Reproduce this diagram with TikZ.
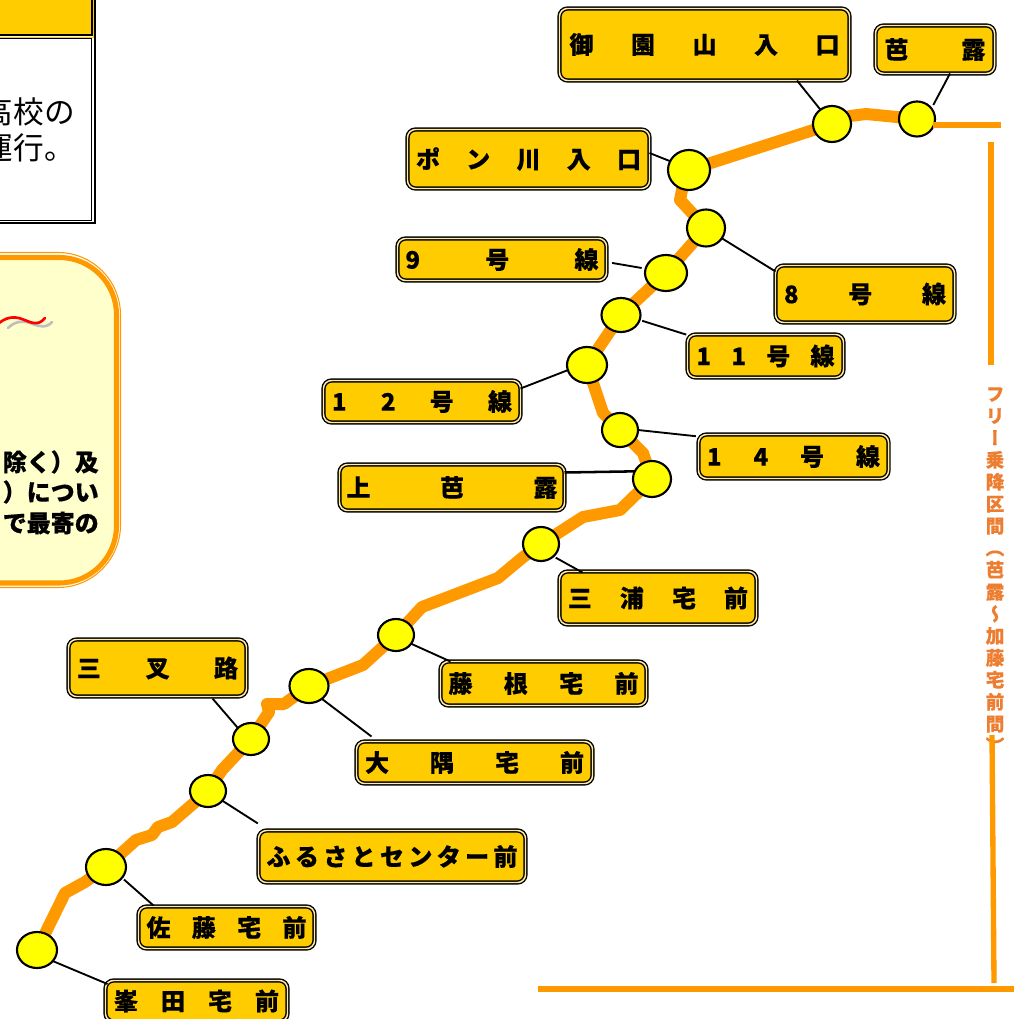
\documentclass[tikz,border=0pt]{standalone}
\usepackage{fontspec}
\usetikzlibrary{shapes.geometric,backgrounds,calc}
\setmainfont{Noto Sans CJK JP}[BoldFeatures={FakeBold=0.4}]
\newfontfamily\cjkv[RawFeature=+vert,BoldFeatures={FakeBold=0.3}]{Noto Sans CJK JP}
\definecolor{gold}{HTML}{FFCC00}
\definecolor{routeor}{HTML}{FF9900}
\definecolor{textor}{HTML}{ED7D31}
\definecolor{cream}{HTML}{FFFFCC}
\definecolor{stopy}{HTML}{FFFF00}
\tikzset{
  lblbox/.style={draw=black,line width=1.05pt,double=gold!35!white,double distance=1.1pt,fill=gold,rounded corners=6pt,inner sep=0pt,outer sep=0pt,font=\fontsize{18}{18}\selectfont\bfseries},
  stopc/.style={ellipse,draw=black,line width=1.6pt,fill=stopy,inner sep=0pt,outer sep=0pt},
  route/.style={draw=routeor,line width=9pt,line join=round,line cap=round},
  leader/.style={draw=black,line width=1.4pt},
  freeln/.style={draw=routeor,line width=4pt},
}
\newcommand\lbl[7]{\node[lblbox,minimum width=(#4-3)*0.75pt,minimum height=(#5-3)*0.75pt] (#1) at (#2,#3) {\makebox[\dimexpr #6pt*3/4\relax]{#7}};}
\newcommand\stp[5]{\node[stopc,minimum width=#4*1.5pt,minimum height=#5*1.5pt] (#1) at (#2,#3) {};}
\begin{document}
\begin{tikzpicture}[x=0.75pt,y=-0.75pt]
\useasboundingbox (0,0) rectangle (1018,1019);
\clip (0,0) rectangle (1018,1019);
% top-left boxes
\fill[gold] (-20,-20) rectangle (92,35);
\draw[line width=1.5pt] (-20,35.5) -- (92,35.5) -- (92,-20);
\draw[gold,line width=0.6pt] (-20,37) -- (93.5,37) -- (93.5,-20);
\draw[line width=1.2pt] (-20,38.5) -- (91.5,38.5) -- (91.5,220.5) -- (-20,220.5);
\draw[line width=1.5pt] (95,-20) -- (95,223) -- (-20,223);
\node[anchor=east,inner sep=0pt,font=\fontsize{23}{23}\selectfont] (t1) at (75,112) {高校の};
\node[anchor=east,inner sep=0pt,font=\fontsize{23}{23}\selectfont] (t2) at (75,148) {運行。};
% cream box
\draw[routeor,line width=0.8pt,rounded corners=47pt] (-100,252.5) -- (120.5,252.5) -- (120.5,587.5) -- (-100,587.5);
\draw[routeor,fill=cream,line width=3.8pt,rounded corners=43pt] (-100,257.5) -- (116.5,257.5) -- (116.5,583) -- (-100,583);
\draw[gray!50,line width=2pt,line cap=round] (8,328) .. controls (14,322) and (22,320) .. (30,323) .. controls (38,326) and (46,329) .. (52,322);
\draw[red,line width=2pt,line cap=round] (-3,325) .. controls (5,317) and (14,316) .. (22,319) .. controls (30,322) and (38,327) .. (45,318);
\foreach \n/\tx/\ty in {b1/除く）及/462,b2/）につい/492,b3/で最寄の/523}
  \node[anchor=east,inner sep=0pt,font=\fontsize{18}{18}\selectfont\bfseries] (\n) at (99,\ty) {\tx};
% stops
\stp{cA}{917}{119}{18}{17.5}
\stp{cB}{832}{124}{19}{18}
\stp{cC}{689}{170}{21}{20}
\stp{cD}{706}{228}{19}{18.5}
\stp{cE}{666}{273}{21}{18}
\stp{cF}{621}{315}{19.5}{17}
\stp{cG}{587}{365}{20}{18}
\stp{cH}{620}{430}{18}{17}
\stp{cI}{652}{479}{19}{18}
\stp{cJ}{541}{544}{18}{17}
\stp{cK}{396}{635}{18}{16}
\stp{cL}{309}{686}{19.5}{17}
\stp{cM}{251}{739}{18}{16}
\stp{cN}{208}{791}{18}{16}
\stp{cO}{106}{867}{20}{18}
\stp{cP}{37}{950}{20}{18}
% labels
\lbl{lA}{935}{49.5}{122}{51}{101}{芭\hfill 露}
\lbl{lB}{704.5}{44.5}{293}{75}{270}{御\hfill 園\hfill 山\hfill 入\hfill 口}
\lbl{lC}{528.5}{159}{245}{62}{225}{ポ\hfill ン\hfill 川\hfill 入\hfill 口}
\lbl{lD}{865}{294}{182}{60}{162}{8\hfill 号\hfill 線}
\lbl{lE}{502}{259.5}{212}{45}{193}{9\hfill 号\hfill 線}
\lbl{lF}{765.5}{356}{159}{46}{138}{1\hfill 1\hfill 号\hfill 線}
\lbl{lG}{422}{401.5}{200}{45}{180}{1\hfill 2\hfill 号\hfill 線}
\lbl{lH}{793.5}{456.5}{193}{47}{173}{1\hfill 4\hfill 号\hfill 線}
\lbl{lI}{452}{487.5}{228}{49}{211}{上\hfill 芭\hfill 露}
\lbl{lJ}{658}{598}{200}{56}{180}{三\hfill 浦\hfill 宅\hfill 前}
\lbl{lK}{543.5}{683.5}{209}{47}{190}{藤\hfill 根\hfill 宅\hfill 前}
\lbl{lL}{474.5}{762.5}{239}{45}{219}{大\hfill 隅\hfill 宅\hfill 前}
\lbl{lM}{157.5}{668}{181}{60}{161}{三\hfill 叉\hfill 路}
\lbl{lN}{392}{856.5}{270}{55}{251}{ふ\hfill る\hfill さ\hfill と\hfill セ\hfill ン\hfill タ\hfill ー\hfill 前}
\lbl{lO}{226.5}{927.5}{179}{45}{160}{佐\hfill 藤\hfill 宅\hfill 前}
\lbl{lP}{196.5}{1001}{185}{44}{165}{峯\hfill 田\hfill 宅\hfill 前}
% route under the nodes
\begin{scope}[on background layer]
\draw[route] (cA.center) -- (866,114) -- (850,116) -- (cB.center) -- (cC.center) -- (682,190) -- (680,200) -- (cD.center) -- (cE.center) -- (cF.center) -- (cG.center) -- (603,413) -- (cH.center) -- (643,453) -- (cI.center) -- (620,510) -- (583,517) -- (cJ.center) -- (522,558) -- (498,578) -- (422,607) -- (cK.center) -- (363,665) -- (cL.center) -- (284,704) -- (267,704) -- (269,712) -- (cM.center) -- (222,770) -- (cN.center) -- (172,822) -- (158,827) -- (152,835) -- (136,840) -- (cO.center) -- (85,882) -- (65,893) -- (cP.center);
\end{scope}
% leaders
\draw[leader] (cB.129) -- ($(lB.south)+(92.5,0)$);
\draw[leader,shorten <=3pt] (cA.36) -- ($(lA.south)+(15,0)$);
\draw[leader] (cC.155) -- ($(lC.east)+(0,-6)$);
\draw[leader] (cD.-33) -- ($(lD.north west)+(0,6)$);
\draw[leader,shorten <=3pt,shorten >=2pt] (cE.168) -- ($(lE.east)+(3,3)$);
\draw[leader,shorten <=2pt,shorten >=1pt] (cF.-15) -- ($(lF.west)+(0,-21)$);
\draw[leader] (cG.195) -- ($(lG.east)+(0,-13)$);
\draw[leader,shorten >=2pt] (cH.0) -- ($(lH.west)+(0,-20)$);
\draw[leader,line width=1.9pt] (cI.156) -- ($(lI.east)+(0,-15)$);
\draw[leader,shorten <=2pt] (cJ.-45) -- ($(lJ.north west)+(23,1)$);
\draw[leader] (cK.-30) -- ($(lK.north west)+(10,0)$);
\draw[leader] (cL.-45) -- ($(lL.north west)+(15,-5)$);
\draw[leader] (cM.140) -- ($(lM.south)+(55,2)$);
\draw[leader,shorten >=1.5pt] (cN.-34) -- ($(lN.north west)+(1,-6)$);
\draw[leader,shorten <=2pt] (cO.-34) -- ($(lO.north west)+(15,-1)$);
\draw[leader] (cP.-35) -- ($(lP.west)+(2,-17)$);
% free lines
\coordinate (fA) at (933,125);
\coordinate (fB) at (1001,125);
\coordinate (fC) at (991,142);
\coordinate (fD) at (991,365);
\coordinate (fE) at (992,735);
\coordinate (fF) at (994,983);
\coordinate (fG) at (538,989);
\coordinate (fH) at (1014,989);
\node[anchor=north,inner sep=0pt,align=center,text=textor,font=\fontsize{14}{16.5}\selectfont\bfseries\cjkv] (vt) at (995,387) {フ\\リ\\ー\\乗\\降\\区\\間\\（\\芭\\露\\～\\加\\藤\\宅\\前\\間\\）};
\draw[freeln] (fA) -- (fB);
\draw[freeln,line width=4.5pt] (fC) -- (fD);
\draw[freeln] (fE) -- (fF);
\draw[freeln] (fG) -- (fH);
\end{tikzpicture}
\end{document}
